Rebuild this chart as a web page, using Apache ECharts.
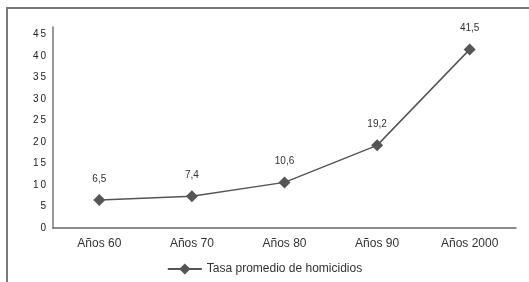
<!DOCTYPE html>
<html>
<head>
<meta charset="utf-8">
<script src="https://cdn.jsdelivr.net/npm/echarts@6/dist/echarts.min.js"></script>
<style>
  html, body { margin: 0; padding: 0; background: #fff; }
  #wrap { position: relative; width: 529px; height: 282px; }
  #frame { position: absolute; left: 6px; top: 7px; right: 0; bottom: 0;
           border-top: 2px solid #7a7a7a; border-left: 2px solid #7a7a7a; }
  #graph { position: absolute; left: 0; top: 0; width: 529px; height: 282px; }
</style>
</head>
<body>
<div id="wrap">
  <div id="frame"></div>
  <div id="graph"></div>
</div>
<script>
const categories = ["Años 60", "Años 70", "Años 80", "Años 90", "Años 2000"];
const tasaHomicidios = [6.5, 7.4, 10.6, 19.2, 41.5];
const seriesName = "Tasa promedio de homicidios";

function spacedDigits(value) {
    if (value % 5 !== 0) return "";
    return String(value).split("").join("\u2009");
}

const container = document.getElementById('graph');
const myChart = echarts.init(container);
myChart.setOption({
    animation: false,
    textStyle: { fontFamily: "Liberation Sans, Arial, sans-serif" },
    legend: {
        data: [seriesName],
        left: 'center',
        top: 258,
        itemWidth: 34,
        itemHeight: 14,
        textStyle: { fontSize: 12, color: "#333" }
    },
    grid: { left: 53, right: 13, top: 27, bottom: 54 },
    xAxis: {
        type: "category",
        data: categories,
        axisLine: { lineStyle: { color: "#666", width: 1.5 } },
        axisTick: { show: false },
        axisLabel: { fontSize: 12, color: "#333", margin: 10 }
    },
    yAxis: {
        type: "value",
        min: 0,
        max: 46.7,
        interval: 5,
        splitLine: { show: false },
        axisLine: { show: true, lineStyle: { color: "#777", width: 1.5 } },
        axisTick: { show: false },
        axisLabel: { fontSize: 10, color: "#222", margin: 7, formatter: spacedDigits }
    },
    series: [
        {
            name: seriesName,
            type: "line",
            data: tasaHomicidios,
            symbol: "diamond",
            symbolSize: 12,
            itemStyle: { color: "#555" },
            lineStyle: { color: "#555", width: 1.5 },
            label: {
                show: true,
                position: "top",
                distance: 10,
                fontSize: 10,
                color: "#333",
                formatter: (p) => String(p.value).replace(".", ",")
            }
        }
    ]
});
</script>
</body>
</html>
